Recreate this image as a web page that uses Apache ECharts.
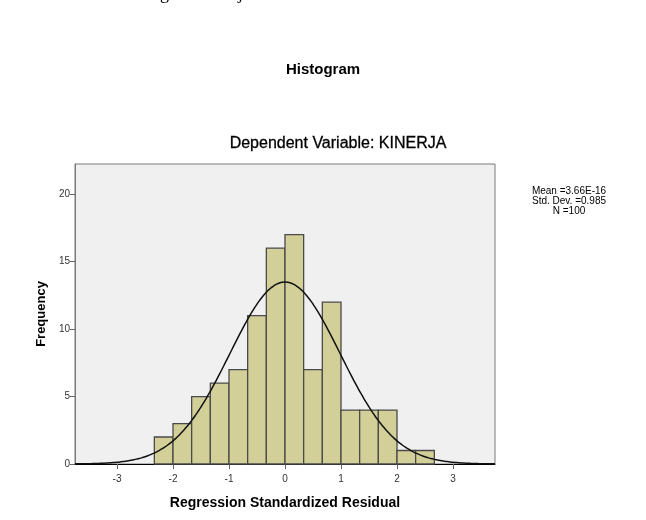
<!DOCTYPE html>
<html>
<head>
<meta charset="utf-8">
<script src="https://cdn.jsdelivr.net/npm/echarts@6/dist/echarts.min.js"></script>
<style>
html,body{margin:0;padding:0;background:#fff;}
#chart{width:646px;height:520px;}
</style>
</head>
<body>
<div id="chart"></div>
<script>
// ---- data ----
var binEdges = [-2.333, -2.0, -1.667, -1.333, -1.0, -0.667, -0.333, 0.0, 0.333, 0.667, 1.0, 1.333, 1.667, 2.0, 2.333, 2.667];
var counts   = [2, 3, 5, 6, 7, 11, 16, 17, 7, 12, 4, 4, 4, 1, 1];
var xTicks = [-3, -2, -1, 0, 1, 2, 3];
var yTicks = [0, 5, 10, 15, 20];
var statLines = ['Mean =3.66E-16', 'Std. Dev. =0.985', 'N =100'];
var statMean = 3.66e-16;
var statSd = 0.985;
var statN = 100;

var bins = counts.map(function (c, i) { return [binEdges[i], binEdges[i + 1], c]; });
var binWidth = binEdges[1] - binEdges[0];

// normal curve defined by the stated mean / std. dev. / N
var curve = [];
for (var k = 0; k <= 150; k++) {
  var x = -3.75 + k * 0.05;
  var z = (x - statMean) / statSd;
  curve.push([x, statN * binWidth * Math.exp(-0.5 * z * z) / (statSd * Math.sqrt(2 * Math.PI))]);
}

var chart = echarts.init(document.getElementById('chart'), null, {renderer: 'canvas'});
var font = 'Liberation Sans, Arial, sans-serif';
chart.setOption({
  animation: false,
  backgroundColor: '#ffffff',
  grid: {left: 75, top: 164, width: 420, height: 300, show: true,
         backgroundColor: '#f0f0f0', borderColor: '#7a7a7a', borderWidth: 1},
  title: [
    {text: 'Histogram', left: 'center', top: 57,
     textStyle: {fontFamily: font, fontSize: 15, fontWeight: 'bold', color: '#000'}},
    {text: 'Dependent Variable: KINERJA', left: 333, top: 131, textAlign: 'center',
     textStyle: {fontFamily: font, fontSize: 16, fontWeight: 'normal', color: '#000',
                 textBorderColor: '#000', textBorderWidth: 0.3}}
  ],
  xAxis: {
    type: 'value', min: -3.75, max: 3.75,
    name: 'Regression Standardized Residual', nameLocation: 'middle', nameGap: 32,
    nameTextStyle: {fontFamily: font, fontSize: 14, fontWeight: 'bold', color: '#000'},
    axisLine: {show: true, onZero: false, lineStyle: {color: '#000', width: 1}},
    axisTick: {show: true, length: 5, lineStyle: {color: '#666'}, customValues: xTicks},
    axisLabel: {fontFamily: font, fontSize: 10, color: '#333', margin: 10, customValues: xTicks},
    splitLine: {show: false}
  },
  yAxis: {
    type: 'value', min: 0, max: 22.24,
    name: 'Frequency', nameLocation: 'middle', nameGap: 23,
    nameTextStyle: {fontFamily: font, fontSize: 13, fontWeight: 'bold', color: '#000'},
    axisLine: {show: true, onZero: false, lineStyle: {color: '#7a7a7a', width: 1}},
    axisTick: {show: true, length: 5, lineStyle: {color: '#666'}, customValues: yTicks},
    axisLabel: {fontFamily: font, fontSize: 10, color: '#333', margin: 5, customValues: yTicks},
    splitLine: {show: false}
  },
  graphic: [
    {type: 'text', x: 569, y: 186, silent: true,
     style: {text: statLines.join('\n'), fontFamily: font, fontSize: 10, lineHeight: 10,
             align: 'center', fill: '#000'}},
    {type: 'text', x: 160, y: -15, silent: true,
     style: {text: 'g', fontFamily: 'Liberation Serif, Times New Roman, serif', fontSize: 18, fill: '#000'}},
    {type: 'text', x: 238, y: -15, silent: true,
     style: {text: 'j', fontFamily: 'Liberation Serif, Times New Roman, serif', fontSize: 18, fill: '#000'}}
  ],
  series: [
    {
      type: 'custom', data: bins, silent: true,
      encode: {x: [0, 1], y: 2},
      renderItem: function (params, api) {
        var p0 = api.coord([api.value(0), api.value(2)]);
        var p1 = api.coord([api.value(1), 0]);
        return {
          type: 'rect',
          shape: {x: p0[0], y: p0[1], width: p1[0] - p0[0], height: p1[1] - p0[1]},
          style: {fill: '#d3cf98', stroke: '#4a4a4a', lineWidth: 1.3}
        };
      }
    },
    {
      type: 'line', data: curve, showSymbol: false, smooth: true, silent: true,
      lineStyle: {color: '#111', width: 1.5}, z: 5
    }
  ]
});
</script>
</body>
</html>
